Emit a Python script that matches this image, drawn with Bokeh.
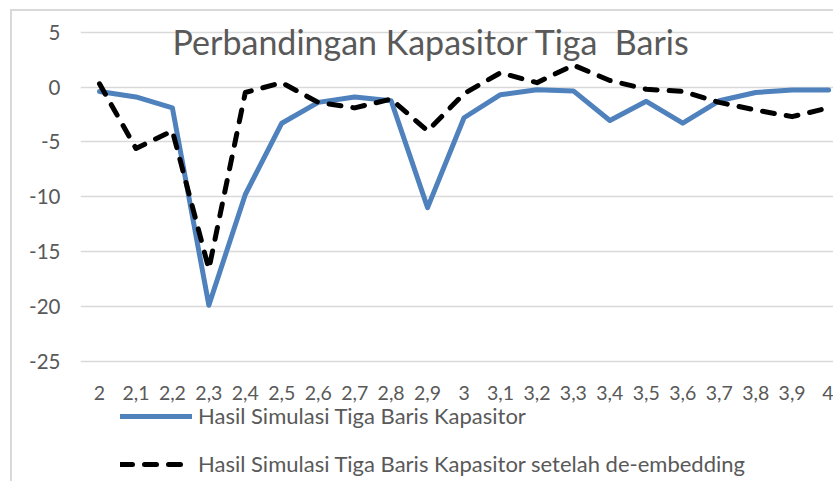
from bokeh.plotting import figure
from bokeh.models import Range1d, FixedTicker, Label, Legend, LegendItem
from bokeh.embed import file_html
from bokeh.resources import INLINE

# ---- data ----
categories = ["2", "2,1", "2,2", "2,3", "2,4", "2,5", "2,6", "2,7", "2,8", "2,9", "3",
              "3,1", "3,2", "3,3", "3,4", "3,5", "3,6", "3,7", "3,8", "3,9", "4"]
simulasi = [-0.4, -0.9, -1.9, -19.9, -9.8, -3.3, -1.4, -0.9, -1.25, -11.0, -2.8,
            -0.7, -0.25, -0.35, -3.05, -1.3, -3.3, -1.25, -0.5, -0.27, -0.27]
deembed = [0.3, -5.6, -4.0, -16.6, -0.5, 0.4, -1.4, -1.9, -1.1, -4.0, -0.6,
           1.3, 0.4, 2.0, 0.6, -0.2, -0.4, -1.4, -2.1, -2.7, -1.9]
y_ticks = [-25, -20, -15, -10, -5, 0, 5]
y_tick_labels = ["-25", "-20", "-15", "-10", "-5", "0", "5"]
title_text = "Perbandingan Kapasitor Tiga\u00a0 Baris"
series_names = ["Hasil Simulasi Tiga Baris Kapasitor",
                "Hasil Simulasi Tiga Baris Kapasitor setelah de-embedding"]

xs = list(range(len(categories)))
GRAY = "#595959"
FONT = "Lato"

# frame spans the plot and the legend area below it; the x axis sits at the
# bottom of the value range (fixed_location) like the original chart
p = figure(width=823, height=472, output_backend="svg", toolbar_location=None,
           x_range=Range1d(-0.521, 20.19), y_range=Range1d(-36.16, 6.07),
           min_border_left=68, min_border_right=0, min_border_top=9,
           min_border_bottom=0)
p.styles = {"position": "relative", "left": "10px", "top": "9px",
            "border-left": "2px solid #D9D9D9", "border-top": "2px solid #D9D9D9"}
p.outline_line_color = None
p.background_fill_color = "white"
p.border_fill_color = "white"

# grid
p.xgrid.visible = False
p.ygrid.grid_line_color = "#D9D9D9"
p.ygrid.grid_line_width = 1.5

# axes
p.xaxis.ticker = FixedTicker(ticks=xs)
p.xaxis.major_label_overrides = {i: c for i, c in zip(xs, categories)}
p.xaxis.fixed_location = -25.18
p.yaxis.ticker = FixedTicker(ticks=y_ticks)
p.yaxis.major_label_overrides = {t: l for t, l in zip(y_ticks, y_tick_labels)}
for ax in (p.xaxis, p.yaxis):
    ax.axis_line_color = None
    ax.major_tick_line_color = None
    ax.minor_tick_line_color = None
    ax.major_label_text_color = GRAY
    ax.major_label_text_font = FONT
p.xaxis.major_label_text_font_size = "19.5px"
p.yaxis.major_label_text_font_size = "20.5px"
p.xaxis.major_label_standoff = 17
p.yaxis.major_label_standoff = 14

r1 = p.line(xs, simulasi, line_color="#4F81BD", line_width=5, line_join="round", line_cap="round")
r2 = p.line(xs, deembed, line_color="black", line_width=5, line_dash="12 12",
            line_join="round", line_cap="round")

legend = Legend(items=[LegendItem(label=series_names[0], renderers=[r1]),
                       LegendItem(label=series_names[1], renderers=[r2])],
                location=(40, 6), orientation="vertical")
legend.padding = 0
legend.margin = 0
legend.spacing = 21
legend.glyph_width = 72
legend.glyph_height = 24
legend.label_height = 24
legend.label_standoff = 6
legend.label_text_font = FONT
legend.label_text_font_size = "22px"
legend.label_text_color = GRAY
legend.border_line_color = None
legend.background_fill_alpha = 0
p.add_layout(legend, "center")

title = Label(x=351, y=442, x_units="screen", y_units="screen", text=title_text,
              text_align="center", text_baseline="alphabetic", text_font=FONT,
              text_font_size="34px", text_color=GRAY)
p.add_layout(title)

open("out.html", "w").write(file_html(p, INLINE))
